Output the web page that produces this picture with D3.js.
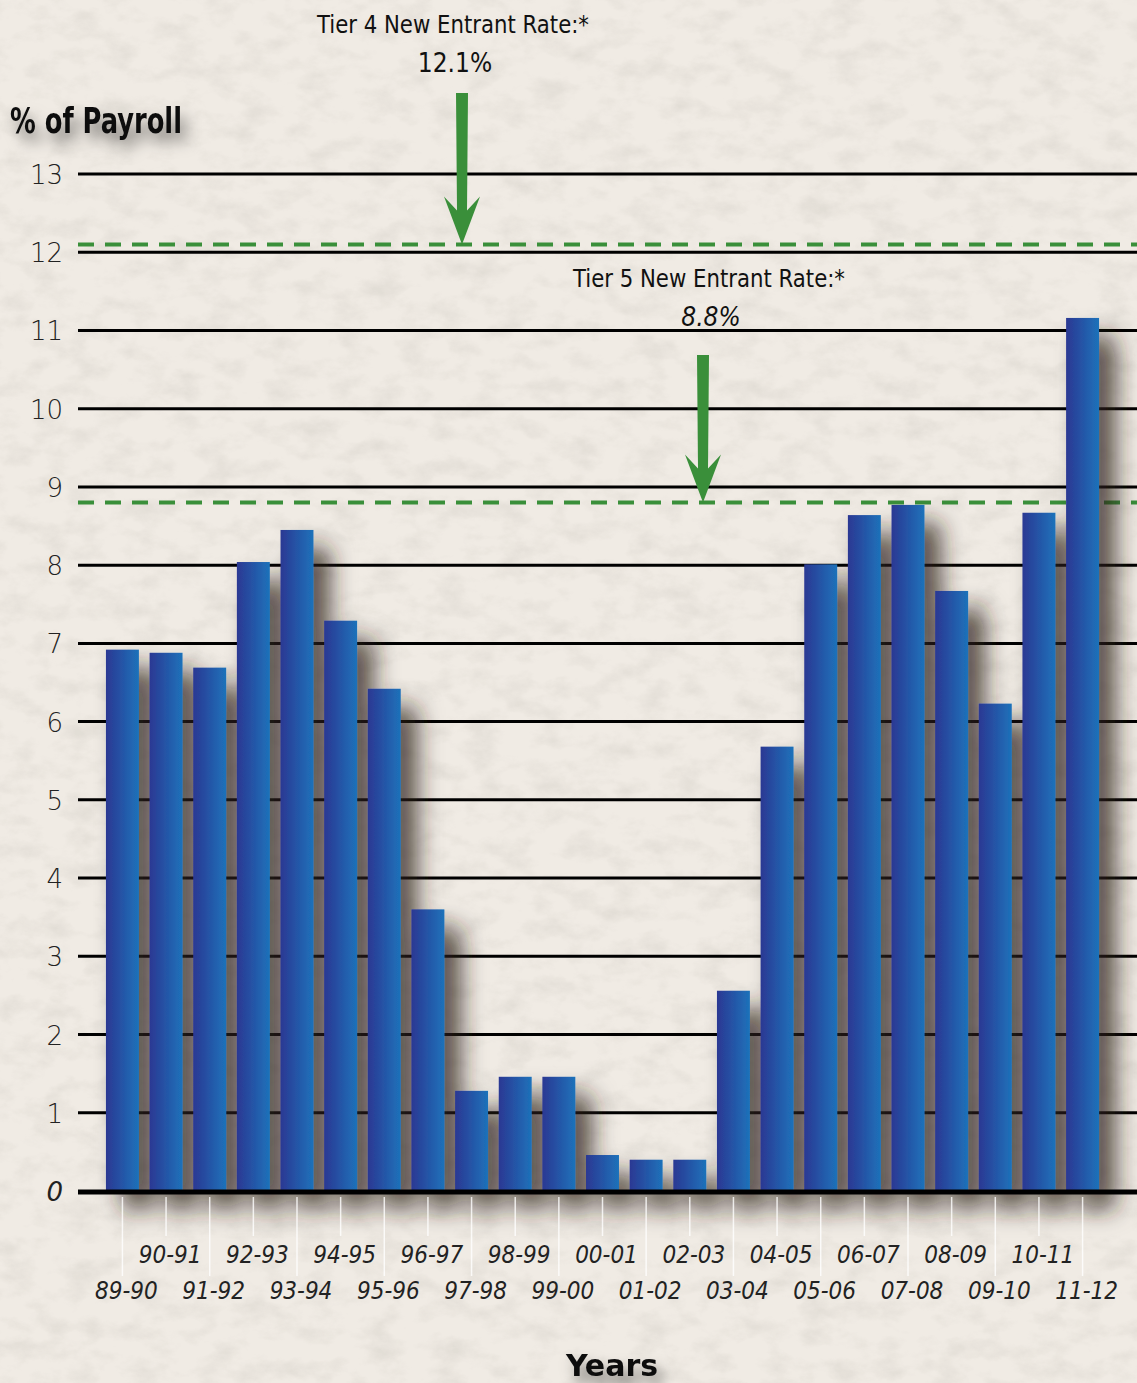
<!DOCTYPE html>
<html>
<head>
<meta charset="utf-8">
<script src="https://cdn.jsdelivr.net/npm/d3@7"></script>
<style>
  html, body { margin: 0; padding: 0; background: #eee9e2; }
  svg { display: block; }
</style>
</head>
<body>
<svg id="chart" width="1137" height="1383"></svg>
<script>
// data
const years = ["89-90", "90-91", "91-92", "92-93", "93-94", "94-95", "95-96", "96-97",
  "97-98", "98-99", "99-00", "00-01", "01-02", "02-03", "03-04", "04-05", "05-06",
  "06-07", "07-08", "08-09", "09-10", "10-11", "11-12"];
const rates = [6.92, 6.88, 6.69, 8.04, 8.45, 7.29, 6.42, 3.60, 1.28, 1.46, 1.46,
  0.46, 0.40, 0.40, 2.56, 5.68, 8.01, 8.64, 8.77, 7.67, 6.23, 8.67, 11.16];
const yTicks = [0, 1, 2, 3, 4, 5, 6, 7, 8, 9, 10, 11, 12, 13];
const tierRates = [
  { name: "Tier 4 New Entrant Rate:*", label: "12.1%", value: 12.1 },
  { name: "Tier 5 New Entrant Rate:*", label: "8.8%", value: 8.8 }
];

const W = 1137, H = 1383;
const svg = d3.select("#chart");
const defs = svg.append("defs");

// paper texture (fine fibres)
const paper = defs.append("filter").attr("id", "paper")
  .attr("x", 0).attr("y", 0).attr("width", "100%").attr("height", "100%");
paper.append("feTurbulence").attr("type", "fractalNoise")
  .attr("baseFrequency", "0.03 0.05").attr("numOctaves", 5).attr("seed", 3).attr("result", "noise");
paper.append("feColorMatrix").attr("type", "matrix")
  .attr("values", "0 0 0 0 0.6  0 0 0 0 0.57  0 0 0 0 0.52  0 0 0 -2.2 1.25")
  .attr("in", "noise");

const grad = defs.append("linearGradient").attr("id", "barGrad")
  .attr("x1", "0%").attr("x2", "100%").attr("y1", "0%").attr("y2", "0%");
grad.append("stop").attr("offset", "0%").attr("stop-color", "#2b3893");
grad.append("stop").attr("offset", "100%").attr("stop-color", "#1e72ba");

const shadow = defs.append("filter").attr("id", "barShadow")
  .attr("x", "-50%").attr("y", "-20%").attr("width", "250%").attr("height", "150%");
shadow.append("feDropShadow").attr("dx", 16).attr("dy", 18).attr("stdDeviation", 12)
  .attr("flood-color", "#2a241c").attr("flood-opacity", 0.8);

const textShadow = defs.append("filter").attr("id", "textShadow")
  .attr("x", "-20%").attr("y", "-50%").attr("width", "140%").attr("height", "220%");
textShadow.append("feDropShadow").attr("dx", 6).attr("dy", 10).attr("stdDeviation", 7)
  .attr("flood-color", "#000").attr("flood-opacity", 0.5);

svg.append("rect").attr("width", W).attr("height", H).attr("fill", "#f0ebe4");
svg.append("rect").attr("width", W).attr("height", H).attr("filter", "url(#paper)").attr("opacity", 0.35);

const x = d3.scaleBand().domain(years).range([100.6, 1104.4]).paddingInner(0.245).paddingOuter(0.1225);
const y = d3.scaleLinear().domain([0, 13]).range([1191, 174]);

// grid lines
svg.append("g").selectAll("line").data(yTicks.filter(d => d > 0)).join("line")
  .attr("x1", 78).attr("x2", W)
  .attr("y1", d => y(d)).attr("y2", d => y(d))
  .attr("stroke", "#000").attr("stroke-width", 3);

// y tick labels
svg.append("g").selectAll("text").data(yTicks).join("text")
  .attr("x", 63).attr("y", d => y(d) + 10)
  .attr("text-anchor", "end")
  .attr("font-family", "DejaVu Sans, sans-serif").attr("font-weight", 200)
  .attr("font-size", 26).attr("fill", "#222")
  .attr("font-style", d => d === 0 ? "italic" : "normal")
  .text(d => d);

// new entrant rate dashed lines
svg.append("g").selectAll("line").data(tierRates).join("line")
  .attr("x1", 78).attr("x2", W)
  .attr("y1", d => y(d.value)).attr("y2", d => y(d.value))
  .attr("stroke", "#3a8f3a").attr("stroke-width", 4)
  .attr("stroke-dasharray", "16 11");

// bars
svg.append("g").attr("filter", "url(#barShadow)")
  .selectAll("rect").data(rates).join("rect")
  .attr("x", (d, i) => x(years[i]))
  .attr("width", x.bandwidth())
  .attr("y", d => y(d))
  .attr("height", d => y(0) - y(d))
  .attr("fill", "url(#barGrad)");

// baseline
svg.append("line").attr("x1", 78).attr("x2", W)
  .attr("y1", y(0) + 1).attr("y2", y(0) + 1)
  .attr("stroke", "#000").attr("stroke-width", 5);

// x ticks (white, alternating lengths)
const xTicks = svg.append("g");
xTicks.selectAll("line").data(years).join("line")
  .attr("x1", d => x(d) + x.bandwidth() / 2)
  .attr("x2", d => x(d) + x.bandwidth() / 2)
  .attr("y1", 1197)
  .attr("y2", (d, i) => i % 2 === 0 ? 1276 : 1236)
  .attr("stroke", "#fff").attr("stroke-opacity", 0.8).attr("stroke-width", 1.5);

xTicks.selectAll("text").data(years).join("text")
  .attr("x", d => x(d) + x.bandwidth() / 2 + 4)
  .attr("y", (d, i) => i % 2 === 0 ? 1299 : 1263)
  .attr("text-anchor", "middle")
  .attr("font-family", "Liberation Sans Narrow, DejaVu Sans Condensed, sans-serif")
  .attr("font-style", "italic")
  .attr("font-size", 24).attr("fill", "#222")
  .text(d => d);

// titles
svg.append("text").attr("x", 10).attr("y", 133)
  .attr("font-family", "DejaVu Sans Condensed, sans-serif").attr("font-weight", "bold")
  .attr("font-size", 36).attr("fill", "#111")
  .attr("filter", "url(#textShadow)")
  .attr("textLength", 172).attr("lengthAdjust", "spacingAndGlyphs")
  .text("% of Payroll");

svg.append("text").attr("x", 612).attr("y", 1376)
  .attr("text-anchor", "middle")
  .attr("font-family", "DejaVu Sans, sans-serif").attr("font-weight", "bold")
  .attr("font-size", 30).attr("fill", "#111")
  .attr("filter", "url(#textShadow)")
  .text("Years");

// annotations with arrows
const annPos = [
  { cx: 453, nameY: 33, labelY: 72, shaftTop: 93, arrowX: 462 },
  { cx: 709, nameY: 287, labelY: 326, shaftTop: 355, arrowX: 703 }
];
tierRates.forEach((t, i) => {
  const p = annPos[i];
  svg.append("text").attr("x", p.cx).attr("y", p.nameY)
    .attr("text-anchor", "middle")
    .attr("font-family", "DejaVu Sans Condensed, sans-serif")
    .attr("font-size", 25).attr("fill", "#111")
    .attr("textLength", 272).attr("lengthAdjust", "spacingAndGlyphs")
    .text(t.name);
  svg.append("text").attr("x", p.cx + 2).attr("y", p.labelY)
    .attr("text-anchor", "middle")
    .attr("font-family", "DejaVu Sans Condensed, sans-serif")
    .attr("font-style", i === 1 ? "italic" : "normal")
    .attr("font-size", 26).attr("fill", "#111")
    .text(t.label);
  const tip = y(t.value);
  const headTop = tip - 48;
  const path = d3.path();
  path.moveTo(p.arrowX - 6, p.shaftTop);
  path.lineTo(p.arrowX + 6, p.shaftTop);
  path.lineTo(p.arrowX + 5, headTop + 14);
  path.lineTo(p.arrowX + 18, headTop);
  path.lineTo(p.arrowX, tip);
  path.lineTo(p.arrowX - 18, headTop);
  path.lineTo(p.arrowX - 5, headTop + 14);
  path.closePath();
  svg.append("path").attr("d", path.toString()).attr("fill", "#3a8f3a");
});
</script>
</body>
</html>
